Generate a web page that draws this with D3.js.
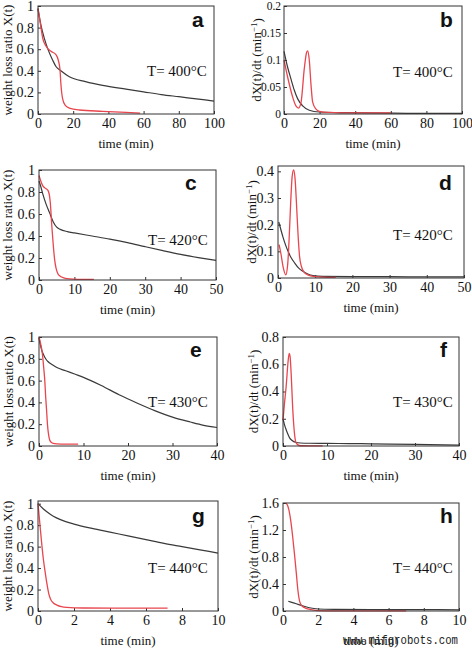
<!DOCTYPE html>
<html>
<head>
<meta charset="utf-8">
<script src="https://cdn.jsdelivr.net/npm/d3@7"></script>
<style>
  body { margin: 0; background: #fff; }
</style>
</head>
<body>
<svg id="chart" width="472" height="649"></svg>
<script>
// weight loss X(t) (left) and rate dX/dt (right), black vs red run
var aBlack = [[0,0.975],[1.7,0.82],[3.6,0.70],[5.5,0.605],[8.3,0.50],[10.2,0.44],[13,0.40],[17.8,0.345],[27,0.30],[36.7,0.265],[50,0.23],[60,0.205],[70,0.18],[80,0.16],[90,0.14],[100,0.12]];
var aRed = [[0,0.975],[1.5,0.82],[2.7,0.70],[4.5,0.63],[7.4,0.58],[10.2,0.55],[11.5,0.50],[12.5,0.41],[13,0.28],[14,0.14],[15.5,0.08],[17.8,0.055],[23.5,0.037],[36.7,0.025],[50,0.015],[58,0.008]];

var bBlack = [[0,0.116],[2,0.087],[3.9,0.065],[5.8,0.044],[7.7,0.028],[10.5,0.015],[14.2,0.007],[19.9,0.0037],[35,0.0025],[60,0.0015],[100,0.001]];
var bRed = [[0,0.10],[2,0.069],[4.9,0.031],[6.7,0.015],[8.2,0.011],[9.6,0.022],[11.4,0.084],[12.7,0.114],[13.3,0.117],[14.2,0.10],[15.2,0.053],[16.1,0.022],[18,0.009],[19.9,0.005],[25,0.003],[40,0.002],[60,0.002]];

var cBlack = [[0,0.90],[0.5,0.85],[1,0.79],[2,0.69],[3,0.61],[4,0.53],[5,0.48],[6,0.46],[8,0.44],[10,0.428],[15,0.40],[20,0.372],[25,0.34],[30,0.303],[35,0.267],[40,0.233],[45,0.204],[50,0.178]];
var cRed = [[0,0.95],[0.5,0.9],[1,0.86],[1.5,0.84],[2,0.83],[2.6,0.81],[3.2,0.70],[3.6,0.50],[4,0.33],[4.4,0.19],[4.8,0.11],[5.3,0.06],[6,0.035],[7,0.02],[8,0.013],[10,0.008],[12,0.006],[15.5,0.005]];

var dBlack = [[0.2,0.21],[0.8,0.18],[1.3,0.155],[2,0.125],[2.7,0.10],[3.5,0.077],[4.5,0.056],[5.5,0.038],[6.7,0.025],[8,0.015],[9.4,0.009],[12,0.006],[20,0.005],[30,0.005],[40,0.004],[50,0.004]];
var dRed = [[0.3,0.125],[0.8,0.09],[1.4,0.04],[2.1,0.012],[2.6,0.05],[3.0,0.15],[3.4,0.28],[3.8,0.38],[4.2,0.405],[4.6,0.37],[5.0,0.27],[5.4,0.16],[5.8,0.08],[6.3,0.043],[7,0.022],[8,0.012],[10,0.005],[12,0.003],[15.5,0.002]];

var eBlack = [[0,0.99],[0.3,0.93],[0.6,0.88],[1,0.84],[1.5,0.80],[2,0.775],[3,0.745],[4,0.72],[6,0.69],[8,0.66],[10,0.63],[14,0.555],[18,0.47],[22,0.395],[26,0.325],[30,0.265],[34,0.22],[37,0.19],[40,0.17]];
var eRed = [[0,1.0],[0.3,0.95],[0.75,0.85],[1.1,0.70],[1.3,0.60],[1.5,0.45],[1.7,0.33],[1.9,0.20],[2.1,0.12],[2.4,0.055],[2.8,0.032],[3.2,0.024],[4,0.02],[6,0.018],[8.8,0.018]];

var fBlack = [[0,0.20],[0.3,0.16],[0.6,0.13],[1,0.095],[1.5,0.06],[2,0.042],[3,0.026],[4,0.022],[6,0.02],[10,0.019],[15,0.018],[20,0.016],[30,0.012],[40,0.006]];
var fRed = [[0,0.19],[0.3,0.30],[0.75,0.45],[1.1,0.60],[1.4,0.68],[1.6,0.66],[1.9,0.50],[2.2,0.28],[2.5,0.13],[2.9,0.03],[3.4,0.008],[4,0.002],[6,0.001],[9,0.001]];

var gBlack = [[0,1.0],[0.3,0.95],[0.7,0.90],[1,0.87],[1.5,0.835],[2,0.81],[3,0.77],[4,0.735],[5,0.70],[6,0.665],[7,0.63],[8,0.60],[9,0.57],[10,0.54]];
var gRed = [[0,1.0],[0.1,0.82],[0.2,0.64],[0.3,0.48],[0.4,0.36],[0.5,0.25],[0.6,0.16],[0.7,0.11],[0.85,0.075],[1.05,0.055],[1.3,0.04],[1.6,0.033],[2.5,0.028],[5,0.027],[7.2,0.026]];

var hBlack = [[0.3,0.145],[0.6,0.12],[0.9,0.095],[1.2,0.07],[1.5,0.048],[2,0.03],[3,0.025],[5,0.022],[7.5,0.02],[10,0.018]];
var hRed = [[0.15,1.6],[0.25,1.57],[0.35,1.48],[0.45,1.32],[0.55,1.10],[0.65,0.85],[0.75,0.58],[0.85,0.30],[0.95,0.14],[1.1,0.07],[1.3,0.04],[1.6,0.02],[2,0.005],[3,0.002],[7,0.001]];

// tick values
var xTicks100 = [0, 20, 40, 60, 80, 100],
    xTicks50 = [0, 10, 20, 30, 40, 50],
    xTicks40 = [0, 10, 20, 30, 40],
    xTicks10 = [0, 2, 4, 6, 8, 10],
    yTicksX = [0, 0.2, 0.4, 0.6, 0.8, 1],
    yTicksB = [0, 0.05, 0.1, 0.15, 0.2],
    yTicksD = [0, 0.1, 0.2, 0.3, 0.4],
    yTicksF = [0, 0.2, 0.4, 0.6, 0.8],
    yTicksH = [0, 0.4, 0.8, 1.2, 1.6];

var letters = ["a", "b", "c", "d", "e", "f", "g", "h"];
var temps = ["400", "400", "420", "420", "430", "430", "440", "440"];

var colors = { black: "#3a3a3a", red: "#e8464e" };
var serif = "'Liberation Serif', 'Times New Roman', serif";

// box = [left, top, right, bottom]
var panels = [
    { box: [38, 6, 214, 114], xd: [0, 100], yd: [0, 1], xt: xTicks100, yt: yTicksX, k: aBlack, r: aRed, lx: 7, let: [192, 27], tt: [147, 76] },
    { box: [284, 6, 462, 114], xd: [0, 100], yd: [0, 0.2], xt: xTicks100, yt: yTicksB, k: bBlack, r: bRed, lx: 256, let: [440, 27], tt: [393, 77], yfs: 11.5, ypad: 3 },
    { box: [39, 170, 216, 280], xd: [0, 50], yd: [0, 1], xt: xTicks50, yt: yTicksX, k: cBlack, r: cRed, lx: 7, let: [185, 190], tt: [148, 245] },
    { box: [278, 166, 464, 278], xd: [0, 50], yd: [0, 0.42], xt: xTicks50, yt: yTicksD, k: dBlack, r: dRed, lx: 251, let: [439, 190], tt: [393, 240] },
    { box: [39, 337, 217, 446], xd: [0, 40], yd: [0, 1], xt: xTicks40, yt: yTicksX, k: eBlack, r: eRed, lx: 8, let: [190, 357], tt: [148, 407] },
    { box: [283, 337, 459, 446], xd: [0, 40], yd: [0, 0.8], xt: xTicks40, yt: yTicksF, k: fBlack, r: fRed, lx: 253, let: [440, 357], tt: [393, 407] },
    { box: [38, 501, 218, 611], xd: [0, 10], yd: [0, 1.025], xt: xTicks10, yt: yTicksX, k: gBlack, r: gRed, lx: 7, let: [192, 523], tt: [148, 573] },
    { box: [283, 503, 459, 611], xd: [0, 10], yd: [0, 1.6], xt: xTicks10, yt: yTicksH, k: hBlack, r: hRed, lx: 253, let: [440, 523], tt: [393, 573] }
];

var svg = d3.select("#chart");
var fmt = d3.format("~g");

panels.forEach(function (p, i) {
    var left = p.box[0], top = p.box[1], right = p.box[2], bottom = p.box[3];
    var x = d3.scaleLinear().domain(p.xd).range([left, right]);
    var y = d3.scaleLinear().domain(p.yd).range([bottom, top]);
    var g = svg.append("g").attr("class", "panel-" + letters[i]);

    // axes with short inward ticks
    var xa = g.append("g")
        .attr("transform", "translate(0," + bottom + ")")
        .call(d3.axisBottom(x).tickValues(p.xt).tickFormat(fmt).tickSizeInner(-3).tickSizeOuter(0).tickPadding(4));
    var ya = g.append("g")
        .attr("transform", "translate(" + left + ",0)")
        .call(d3.axisLeft(y).tickValues(p.yt).tickFormat(fmt).tickSizeInner(-3).tickSizeOuter(0).tickPadding(p.ypad || 4));
    [xa, ya].forEach(function (a) {
        a.select(".domain").remove();
        a.attr("font-family", serif).attr("font-size", 14);
        a.selectAll("line").attr("stroke", "#333");
        a.selectAll("text").attr("fill", "#111");
    });
    if (p.yfs) ya.attr("font-size", p.yfs);

    var line = d3.line()
        .x(function (d) { return x(d[0]); })
        .y(function (d) { return y(d[1]); })
        .curve(d3.curveMonotoneX);

    g.append("path").datum(p.k)
        .attr("d", line).attr("fill", "none")
        .attr("stroke", colors.black).attr("stroke-width", 1.2);
    g.append("path").datum(p.r)
        .attr("d", line).attr("fill", "none")
        .attr("stroke", colors.red).attr("stroke-width", 1.3);

    // frame
    g.append("rect")
        .attr("x", left).attr("y", top)
        .attr("width", right - left).attr("height", bottom - top)
        .attr("fill", "none").attr("stroke", "#333").attr("stroke-width", 1);

    g.append("text")
        .attr("x", (left + right) / 2).attr("y", bottom + 34)
        .attr("text-anchor", "middle")
        .attr("font-family", serif).attr("font-size", 13).attr("fill", "#111")
        .text("time (min)");

    var yl = g.append("text")
        .attr("transform", "translate(" + p.lx + "," + (top + bottom) / 2 + ") rotate(-90)")
        .attr("dy", "0.35em")
        .attr("text-anchor", "middle")
        .attr("font-family", serif).attr("font-size", 13).attr("fill", "#111");
    if (i % 2 === 0) {
        yl.text("weight loss ratio X(t)");
    } else {
        yl.append("tspan").text("dX(t)/dt (min");
        yl.append("tspan").attr("dy", "-0.45em").attr("font-size", 9).text("\u22121");
        yl.append("tspan").attr("dy", "0.45em").text(")");
    }

    g.append("text")
        .attr("x", p.tt[0]).attr("y", p.tt[1])
        .attr("font-family", serif).attr("font-size", 15).attr("fill", "#111")
        .text("T= " + temps[i] + "\u00B0C");

    g.append("text")
        .attr("x", p.let[0]).attr("y", p.let[1])
        .attr("font-family", "'Liberation Sans', Arial, sans-serif")
        .attr("font-weight", "bold").attr("font-size", 21).attr("fill", "#111")
        .text(letters[i]);
});

// site watermark, drawn over the last axis title like in the source image
svg.append("text")
    .attr("x", 343).attr("y", 644)
    .attr("font-family", "'Liberation Mono', 'Courier New', monospace")
    .attr("font-size", 13).attr("fill", "#222")
    .attr("textLength", 115).attr("lengthAdjust", "spacingAndGlyphs")
    .text("www.mifgrobots.com");
</script>
</body>
</html>
